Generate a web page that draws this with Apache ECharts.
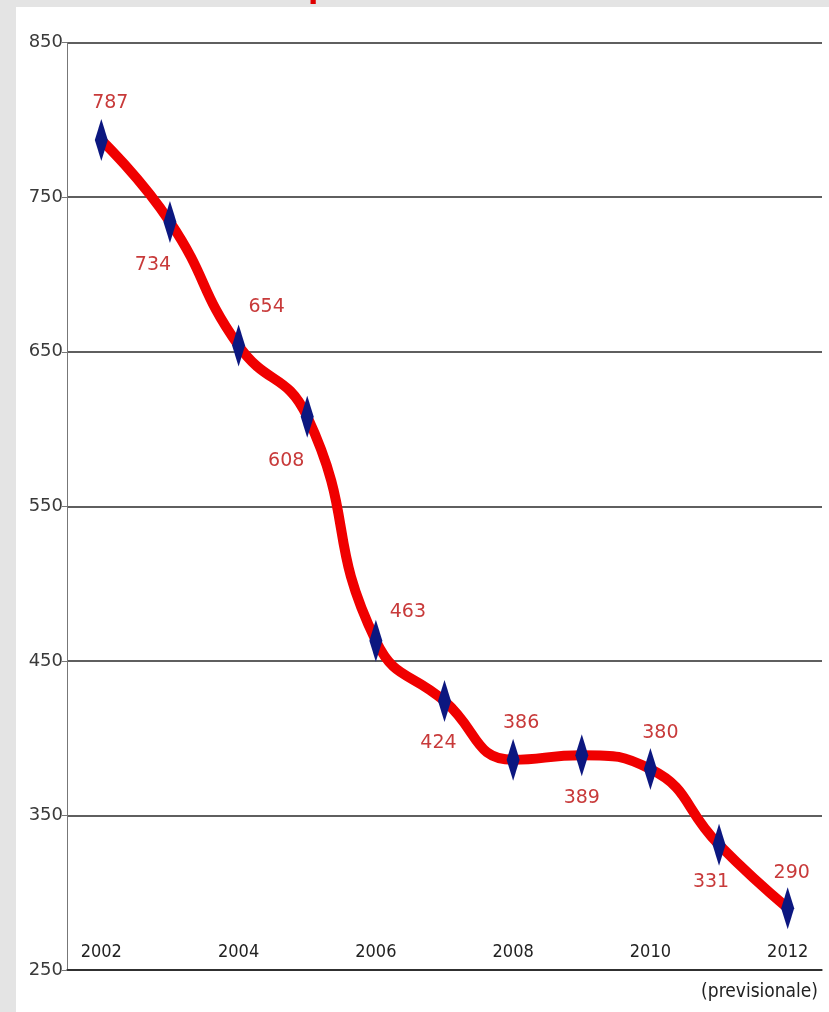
<!DOCTYPE html>
<html>
<head>
<meta charset="utf-8">
<script src="https://cdn.jsdelivr.net/npm/echarts@6/dist/echarts.min.js"></script>
<style>
html,body{margin:0;padding:0;background:#e4e4e4;}
#c{width:829px;height:1012px;}
</style>
</head>
<body>
<div id="c"></div>
<script>
// ---- data ----
const years = ['2002','2003','2004','2005','2006','2007','2008','2009','2010','2011','2012'];
const values = [787, 734, 654, 608, 463, 424, 386, 389, 380, 331, 290];
const yTicks = [250, 350, 450, 550, 650, 750, 850];
const forecastNote = '(previsionale)';

// ---- presentation ----
const labelOffsets = [[9,-37],[-17,43],[28,-39],[-21,44],[32,-29],[-6,42],[8,-37],[0,43],[10,-36],[-8,37],[4,-35]];
const narrowFont = '"DejaVu Sans Condensed", "Roboto Condensed", "Liberation Sans Narrow", "Open Sans Condensed", sans-serif';

const chart = echarts.init(document.getElementById('c'), null, {renderer:'canvas'});
const option = {
  animation: false,
  backgroundColor: 'transparent',
  graphic: [
    {type:'rect', z:-10, shape:{x:16,y:7,width:829,height:1012}, style:{fill:'#ffffff'}},
    {type:'text', left:308, top:-25, style:{text:'p', fill:'#e00000', font:'bold 30px "DejaVu Sans"'}},
    {type:'text', right:11, top:983, style:{text:forecastNote, fill:'#222', font:'19px ' + narrowFont}}
  ],
  grid: {left:67, right:7, top:42.7, bottom:42, containLabel:false},
  xAxis: {
    type:'category', data: years, boundaryGap:true,
    axisLine:{show:true, lineStyle:{color:'#222', width:1.5}},
    axisTick:{show:false},
    axisLabel:{inside:true, interval:1, margin:9, color:'#222', fontFamily:narrowFont, fontSize:18},
    splitLine:{show:false}
  },
  yAxis: {
    type:'value', min: yTicks[0], max: yTicks[yTicks.length-1], interval:100,
    axisLine:{show:true, lineStyle:{color:'#777', width:1}},
    axisTick:{show:true, length:5, lineStyle:{color:'#777'}},
    axisLabel:{margin:4, color:'#3a3a3a', fontFamily:'"DejaVu Sans", Verdana, sans-serif', fontSize:18},
    splitLine:{show:true, lineStyle:{color:'#2a2a2a', width:1.5}}
  },
  series: [{
    type:'line',
    data: values.map((v,i)=>({value:v, label:{offset:labelOffsets[i]}})),
    smooth:0.5,
    lineStyle:{color:'#f00000', width:10},
    itemStyle:{color:'#0c1780'},
    symbol:'path://M0,-21 L6.5,0 L0,21 L-6.5,0 Z',
    symbolSize:[13,42],
    label:{show:true, position:'inside', color:'#c83a3a',
      fontFamily:'"DejaVu Sans", Verdana, sans-serif', fontSize:19},
    z:5
  }]
};
chart.setOption(option);
</script>
</body>
</html>
